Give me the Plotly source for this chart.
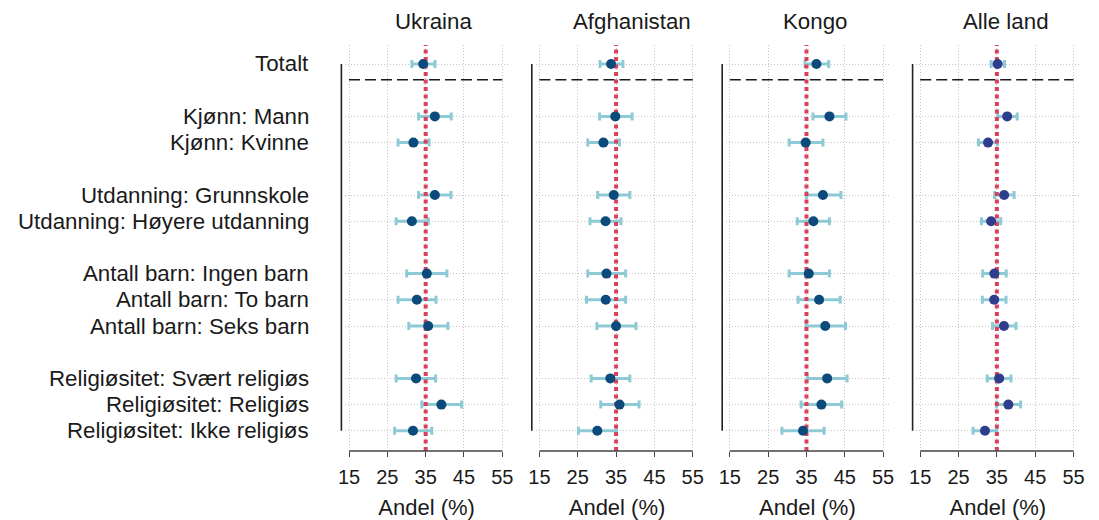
import plotly.graph_objects as go

# ---------------- data ----------------
countries = ["Ukraina", "Afghanistan", "Kongo", "Alle land"]
labels = ["Totalt", "Kjønn: Mann", "Kjønn: Kvinne", "Utdanning: Grunnskole",
          "Utdanning: Høyere utdanning", "Antall barn: Ingen barn", "Antall barn: To barn",
          "Antall barn: Seks barn", "Religiøsitet: Svært religiøs", "Religiøsitet: Religiøs",
          "Religiøsitet: Ikke religiøs"]

ukraina_est = [34.35, 37.4, 31.8, 37.4, 31.4, 35.3, 32.7, 35.65, 32.5, 39.1, 31.7]
ukraina_lo = [31.4, 33.15, 27.8, 33.15, 27.3, 30.05, 27.8, 30.6, 27.3, 34.0, 26.9]
ukraina_hi = [37.45, 41.67, 35.9, 41.6, 35.7, 40.55, 37.7, 40.8, 37.6, 44.4, 36.6]

afghanistan_est = [33.7, 34.8, 31.7, 34.4, 32.25, 32.5, 32.3, 35.0, 33.5, 35.9, 30.1]
afghanistan_lo = [30.8, 30.7, 27.6, 30.2, 28.2, 27.6, 27.3, 30.0, 28.5, 31.0, 25.2]
afghanistan_hi = [36.8, 39.2, 35.9, 38.6, 36.3, 37.5, 37.5, 40.2, 38.6, 41.0, 35.1]

kongo_est = [37.6, 41.0, 34.8, 39.3, 36.8, 35.6, 38.3, 39.9, 40.4, 38.9, 34.1]
kongo_lo = [34.6, 36.7, 30.5, 35.0, 32.6, 30.5, 32.8, 34.9, 35.2, 33.6, 28.6]
kongo_hi = [40.8, 45.3, 39.3, 44.0, 41.0, 41.0, 43.8, 45.2, 45.6, 44.2, 39.6]

alle_est = [35.2, 37.7, 32.7, 36.9, 33.5, 34.35, 34.3, 36.85, 35.6, 38.0, 31.9]
alle_lo = [33.5, 35.2, 30.2, 34.4, 31.0, 31.3, 31.2, 33.85, 32.5, 34.9, 28.8]
alle_hi = [37.0, 40.3, 35.1, 39.5, 36.0, 37.45, 37.4, 40.0, 38.7, 41.2, 35.0]

reference_value = 35.0
x_ticks = [15, 25, 35, 45, 55]

# ---------------- layout helpers ----------------
W, H = 1099, 520
OFF = 8  # page body margin: figure origin sits at (8, 8) in the window
row_pos = [0, 2, 3, 5, 6, 8, 9, 10, 12, 13, 14]
series = [
    (ukraina_est, ukraina_lo, ukraina_hi),
    (afghanistan_est, afghanistan_lo, afghanistan_hi),
    (kongo_est, kongo_lo, kongo_hi),
    (alle_est, alle_lo, alle_hi),
]
dot_colors = ["#0b4a7a", "#0b4a7a", "#0b4a7a", "#2e3d8c"]
err_color = "#8ecad6"
red = "#d7415c"
grid_color = "#c4c4c4"


def fx(px):
    return (px - OFF) / W


def fy(py):
    return 1 - (py - OFF) / H


px_per_unit = 3.875
panel_start = [345.7, 538.2, 730.7, 923.2]   # window pixel of x=15
title_offset = [8, 16, 9, 9]
xr = [14, 56.5]
row_h = 26.2
row0_px = 64
top_px, bot_px = 45, 451
yr = [(bot_px - row0_px) / row_h, (top_px - row0_px) / row_h]

fig = go.Figure()
shapes = []
annotations = []

for i, (name, (est, lo, hi)) in enumerate(zip(countries, series)):
    ax = "" if i == 0 else str(i + 1)
    xref, yref = "x" + ax, "y" + ax
    left = panel_start[i] + (xr[0] - 15) * px_per_unit
    right = panel_start[i] + (xr[1] - 15) * px_per_unit

    fig.update_layout(**{
        "xaxis" + ax: dict(
            domain=[fx(left), fx(right)], range=xr, anchor=yref,
            tickvals=x_ticks, ticks="outside", ticklen=5, tickcolor="#444",
            tickwidth=1.2, showline=False, zeroline=False,
            showgrid=True, gridcolor=grid_color, griddash="1px,2px", gridwidth=1,
            tickfont=dict(size=20, color="#1a1a1a"), ticklabelstandoff=3,
            title=dict(text="Andel (%)", font=dict(size=22, color="#1a1a1a"), standoff=12),
            fixedrange=True,
        ),
        "yaxis" + ax: dict(
            domain=[fy(bot_px), fy(top_px)], range=yr, anchor=xref,
            tickvals=row_pos, showticklabels=False, ticks="",
            showline=False, zeroline=False,
            showgrid=True, gridcolor=grid_color, griddash="1px,2px", gridwidth=1,
            fixedrange=True,
        ),
    })

    plus = [h - e for h, e in zip(hi, est)]
    minus = [e - l for e, l in zip(est, lo)]
    # error bars
    fig.add_trace(go.Scatter(
        x=est, y=row_pos, mode="markers", xaxis=xref, yaxis=yref,
        marker=dict(size=1, opacity=0, color=err_color),
        error_x=dict(type="data", symmetric=False, array=plus, arrayminus=minus,
                     color=err_color, thickness=3, width=4),
        showlegend=False, hoverinfo="skip",
    ))
    # reference line
    fig.add_trace(go.Scatter(
        x=[reference_value, reference_value], y=[yr[0], yr[1]], mode="lines",
        xaxis=xref, yaxis=yref, line=dict(color=red, width=4, dash="4px,3.5px"),
        showlegend=False, hoverinfo="skip",
    ))
    # point estimates
    fig.add_trace(go.Scatter(
        x=est, y=row_pos, mode="markers", xaxis=xref, yaxis=yref,
        marker=dict(size=10, color=dot_colors[i]),
        showlegend=False,
    ))

    # dashed separator under Totalt
    shapes.append(dict(type="line", xref=xref, yref=yref, x0=15, x1=55, y0=0.6, y1=0.6,
                       line=dict(color="#1a1a1a", width=1.6, dash="11px,5px")))
    # left vertical line
    xl = fx(panel_start[i] - 7.7)
    shapes.append(dict(type="line", xref="paper", yref=yref, x0=xl, x1=xl,
                       y0=row_pos[0], y1=row_pos[-1], line=dict(color="#222222", width=1.6)))
    # bottom axis line
    shapes.append(dict(type="line", xref=xref, yref=yref + " domain", x0=15, x1=55,
                       y0=0, y1=0, line=dict(color="#444444", width=1.4)))
    # panel title
    center = panel_start[i] + 20 * px_per_unit + title_offset[i]
    annotations.append(dict(text=name, xref="paper", yref="paper", x=fx(center),
                            y=fy(21), xanchor="center", yanchor="middle",
                            showarrow=False, font=dict(size=22.3, color="#1a1a1a")))

for lab, r in zip(labels, row_pos):
    annotations.append(dict(text=lab, xref="paper", yref="y", x=fx(307), y=r,
                            xanchor="right", yanchor="middle", showarrow=False,
                            font=dict(size=22.3, color="#1a1a1a")))

fig.update_layout(
    width=W, height=H, margin=dict(l=0, r=0, t=0, b=0),
    paper_bgcolor="white", plot_bgcolor="white",
    font=dict(family="Liberation Sans, Arial, sans-serif", color="#1a1a1a"),
    shapes=shapes, annotations=annotations,
)

fig.write_html("out.html")
